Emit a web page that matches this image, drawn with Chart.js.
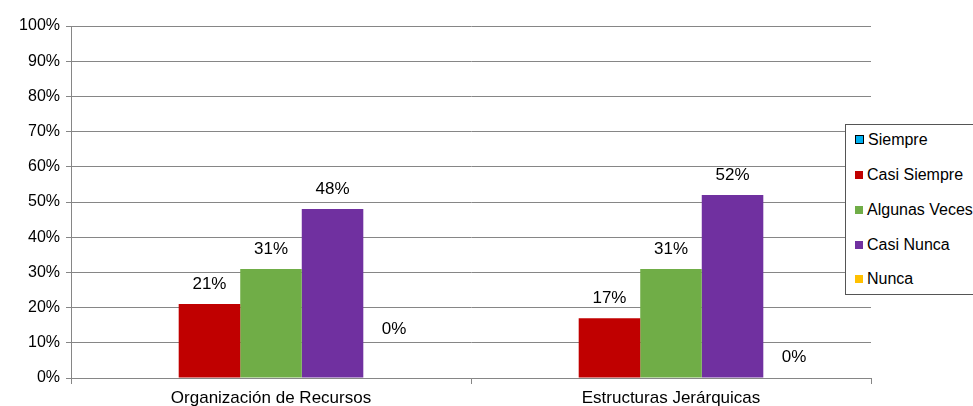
<!DOCTYPE html>
<html>
<head>
<meta charset="utf-8">
<script src="https://cdn.jsdelivr.net/npm/chart.js@4.4.1/dist/chart.umd.min.js"></script>
<style>
   body { margin: 0; background: #fff; overflow: hidden; }
   #wrap { position: relative; width: 973px; height: 406px; }
   #legend {
      position: absolute; left: 845px; top: 124px; width: 140px; height: 171px;
      border: 1px solid #555; background: #fff; box-sizing: border-box;
      font-family: "Liberation Sans", Arial, sans-serif; font-size: 16px; color: #000;
   }
   .item { position: absolute; left: 9px; height: 18px; line-height: 18px; white-space: nowrap; }
   .box { display: inline-block; width: 8px; height: 8px; margin-right: 4px; vertical-align: 1px; }
</style>
</head>
<body>
<div id="wrap">
   <canvas id="myChart" width="973" height="406"></canvas>
   <div id="legend"></div>
</div>
<script>
const categories = ['Organización de Recursos', 'Estructuras Jerárquicas'];
const seriesNames = ['Siempre', 'Casi Siempre', 'Algunas Veces', 'Casi Nunca', 'Nunca'];
const siempre = [null, null];
const casiSiempre = [21, 17];
const algunasVeces = [31, 31];
const casiNunca = [48, 52];
const nunca = [0, 0];
const colors = ['#00B0F0', '#C00000', '#70AD47', '#7030A0', '#FFC000'];
const yTicks = [0, 10, 20, 30, 40, 50, 60, 70, 80, 90, 100];

// where the 0% labels sit above the baseline (per category)
const zeroLift = [49, 21];

const font = '"Liberation Sans", Arial, sans-serif';
const values = [siempre, casiSiempre, algunasVeces, casiNunca, nunca];

const labelPlugin = {
   id: 'barLabels',
   afterDatasetsDraw(chart) {
      const c = chart.ctx;
      c.save();
      c.font = '17px ' + font;
      c.fillStyle = '#000';
      c.textAlign = 'center';
      c.textBaseline = 'middle';
      chart.data.datasets.forEach((ds, i) => {
         chart.getDatasetMeta(i).data.forEach((bar, j) => {
            const v = ds.data[j];
            if (v === null) return;
            let y = bar.y - 20;
            if (v === 0) y = chart.scales.y.getPixelForValue(0) - zeroLift[j];
            c.fillText(v + '%', bar.x, y);
         });
      });
      c.restore();
   }
};

const ctx = document.getElementById('myChart').getContext('2d');
const myChart = new Chart(ctx, {
   type: 'bar',
   data: {
      labels: categories,
      datasets: values.map((d, i) => ({
         label: seriesNames[i],
         data: d,
         backgroundColor: colors[i],
         borderWidth: 0,
         categoryPercentage: 5 / 6.5,
         barPercentage: 1
      }))
   },
   options: {
      responsive: false,
      animation: false,
      layout: { padding: { top: 26, right: 102, left: 0, bottom: 0 } },
      plugins: { legend: { display: false }, tooltip: { enabled: false } },
      scales: {
         x: {
            grid: { drawOnChartArea: false, color: '#868686', tickLength: 6, offset: true },
            border: { color: '#868686' },
            ticks: { color: '#000', font: { family: font, size: 17 }, padding: 4, maxRotation: 0 },
            afterFit(s) { s.height = 28; }
         },
         y: {
            min: 0, max: 100,
            afterBuildTicks(s) { s.ticks = yTicks.map(v => ({ value: v })); },
            grid: { color: '#868686', tickLength: 5 },
            border: { color: '#868686' },
            ticks: {
               color: '#000', font: { family: font, size: 16 }, padding: 6,
               callback: v => v + '%'
            },
            afterFit(s) { s.width = 71; }
         }
      }
   },
   plugins: [labelPlugin]
});

// legend drawn as html so it can overlap the plot like the original
const legend = document.getElementById('legend');
const rowY = [6, 41, 76, 111, 145];
seriesNames.forEach((name, i) => {
   const el = document.createElement('div');
   el.className = 'item';
   el.style.top = rowY[i] + 'px';
   const b = document.createElement('span');
   b.className = 'box';
   b.style.background = colors[i];
   if (i === 0) { b.style.border = '1px solid #000'; b.style.width = '7px'; b.style.height = '7px'; }
   el.appendChild(b);
   el.appendChild(document.createTextNode(name));
   legend.appendChild(el);
});
</script>
</body>
</html>
